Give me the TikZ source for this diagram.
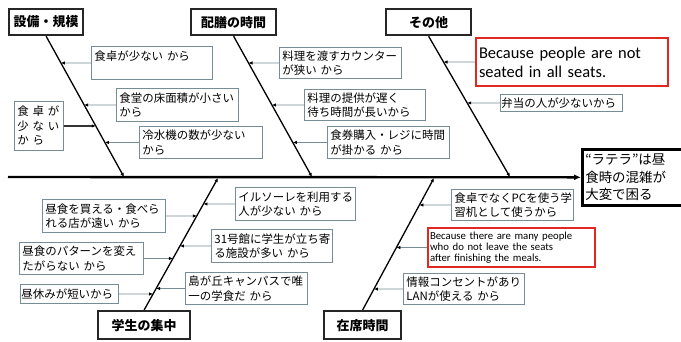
\documentclass[tikz,border=0pt]{standalone}
\usepackage{fontspec}
\newfontfamily\jpfont{Noto Sans CJK JP}
\newfontfamily\enfont{Carlito}
\usepackage{xcolor}
\usepackage{tikz}
\usetikzlibrary{arrows.meta, positioning, calc}
\definecolor{boxgray}{RGB}{120,140,150}
\definecolor{noteRed}{RGB}{225,40,35}
\tikzset{
    cat/.style={draw=black!85, line width=2.2bp, fill=white, anchor=north west, inner sep=2bp,
        font=\jpfont\bfseries\fontsize{13}{14}\selectfont},
    cause/.style={draw=boxgray, line width=0.9bp, fill=white, anchor=north west, align=left, inner sep=3bp,
        font=\jpfont\fontsize{11.5}{14.5}\selectfont},
    note/.style={draw=noteRed, line width=2bp, fill=white, anchor=north west, align=left, inner sep=3bp},
    headbox/.style={draw=black, line width=2.6bp, fill=white, anchor=north west, align=left, inner sep=3bp,
        font=\jpfont\fontsize{13.5}{17.5}\selectfont},
    spine/.style={-{Latex[length=7bp,width=6bp]}, line width=2.4bp},
    bone/.style={-{Latex[length=4bp,width=3.5bp]}, line width=1.3bp},
    rib/.style={draw=boxgray, line width=0.9bp, -{Latex[length=4bp,width=3.5bp,color=black]}}
}
\begin{document}
\begin{tikzpicture}[x=1bp, y=-1bp]
    \useasboundingbox (0,0) rectangle (681,341);

    % head and spine
    \node[headbox, text width=130bp, minimum height=56bp] (head) at (581,148)
        {“ラテラ”は昼\\食時の混雑が\\大変で困る};
    \coordinate (tail) at (8,177);
    \draw[spine] (tail) -- (head.west);

    % categories
    \node[cat, minimum width=74bp, minimum height=26bp] (equip) at (8,8) {設備・規模};
    \node[cat, minimum width=85bp, minimum height=26bp] (serve) at (190,8) {配膳の時間};
    \node[cat, minimum width=85bp, minimum height=26bp] (other) at (385,8) {その他};
    \node[cat, minimum width=92bp, minimum height=28bp] (crowd) at (97,310) {学生の集中};
    \node[cat, minimum width=77bp, minimum height=28bp] (stay) at (323,310) {在席時間};

    \coordinate (j1) at (124,177);
    \coordinate (j2) at (312,177);
    \coordinate (j3) at (510,177);
    \coordinate (j4) at (218,178);
    \coordinate (j5) at (434,178);
    \draw[bone] (equip.south) -- (j1);
    \draw[bone] (serve.south) -- (j2);
    \draw[bone] (other.south) -- (j3);
    \draw[bone] (crowd.north) -- (j4);
    \draw[bone] (stay.north) -- (j5);

    % causes: equipment
    \node[cause, text width=115bp, minimum height=33bp] (a1) at (91,46) {食卓が少ない\ から\\\mbox{}};
    \node[cause, text width=116bp, minimum height=33bp] (a2) at (116,88) {食堂の床面積が小さい\\から};
    \node[cause, text width=117bp, minimum height=32bp] (a3) at (139,126) {冷水機の数が少ない\\から};
    \node[cause, text width=43bp, minimum height=49bp] (a0) at (14,101) {食\ 卓\ が\\少\ な\ い\\か\ ら};
    \draw[rib] (a1.west) -- (intersection of equip.south--j1 and a1.west--a1.east);
    \draw[rib] (a2.west) -- (intersection of equip.south--j1 and a2.west--a2.east);
    \draw[rib] (a3.west) -- (intersection of equip.south--j1 and a3.west--a3.east);
    \draw[rib, draw=black!80, line width=1.6bp] (a0.east) -- (intersection of equip.south--j1 and a0.west--a0.east);

    % causes: serving time
    \node[cause, text width=116bp, minimum height=31bp] (b1) at (279,47) {料理を渡すカウンター\\が狭い\ から};
    \node[cause, text width=115bp, minimum height=30bp] (b2) at (304,89) {料理の提供が遅く\\待ち時間が長いから};
    \node[cause, text width=116bp, minimum height=32bp] (b3) at (327,126) {食券購入・レジに時間\\が掛かる\ から};
    \draw[rib] (b1.west) -- (intersection of serve.south--j2 and b1.west--b1.east);
    \draw[rib] (b2.west) -- (intersection of serve.south--j2 and b2.west--b2.east);
    \draw[rib] (b3.west) -- (intersection of serve.south--j2 and b3.west--b3.east);

    % causes: other
    \node[note, text width=186bp, minimum height=48bp, font=\enfont\fontsize{16.5}{19}\selectfont] (seats) at (475,37)
        {Because people are not\\seated in all seats.};
    \node[cause, text width=120bp, minimum height=17bp, inner sep=1bp] (f1) at (500,94) {弁当の人が少ないから};
    \draw[rib] (seats.west) -- (intersection of other.south--j3 and seats.west--seats.east);
    \draw[rib] (f1.west) -- (intersection of other.south--j3 and f1.west--f1.east);

    % causes: crowding
    \node[cause, text width=117bp, minimum height=33bp] (c1) at (42,199) {昼食を買える・食べら\\れる店が遠い\ から};
    \node[cause, text width=118bp, minimum height=32bp] (c2) at (19,242) {昼食のパターンを変え\\たがらない\ から};
    \node[cause, text width=96bp, minimum height=19bp, inner sep=1bp] (c3) at (20,284) {昼休みが短いから};
    \node[cause, text width=114bp, minimum height=33bp] (d1) at (235,187) {イルソーレを利用する\\人が少ない\ から};
    \node[cause, text width=115bp, minimum height=33bp] (d2) at (211,229) {31号館に学生が立ち寄\\る施設が多い\ から};
    \node[cause, text width=116bp, minimum height=32bp] (d3) at (185,272) {島が丘キャンパスで唯\\一の学食だ\ から};
    \draw[rib] (c1.east) -- (intersection of crowd.north--j4 and c1.west--c1.east);
    \draw[rib] (c2.east) -- (intersection of crowd.north--j4 and c2.west--c2.east);
    \draw[rib] (c3.east) -- (intersection of crowd.north--j4 and c3.west--c3.east);
    \draw[rib] (d1.west) -- (intersection of crowd.north--j4 and d1.west--d1.east);
    \draw[rib] (d2.west) -- (intersection of crowd.north--j4 and d2.west--d2.east);
    \draw[rib] (d3.west) -- (intersection of crowd.north--j4 and d3.west--d3.east);

    % causes: time in seat
    \node[cause, text width=116bp, minimum height=31bp] (e1) at (451,189) {食卓でなくPCを使う学\\習机として使うから};
    \node[note, text width=163bp, minimum height=39bp, inner sep=2bp, font=\enfont\fontsize{10.8}{10.8}\selectfont] (leave) at (427,227)
        {Because there are many people\\who do not leave the seats\\after finishing the meals.};
    \node[cause, text width=115bp, minimum height=31bp] (e3) at (403,273) {情報コンセントがあり\\LANが使える\ から};
    \draw[rib] (e1.west) -- (intersection of stay.north--j5 and e1.west--e1.east);
    \draw[rib] (leave.west) -- (intersection of stay.north--j5 and leave.west--leave.east);
    \draw[rib] (e3.west) -- (intersection of stay.north--j5 and e3.west--e3.east);
\end{tikzpicture}
\end{document}
